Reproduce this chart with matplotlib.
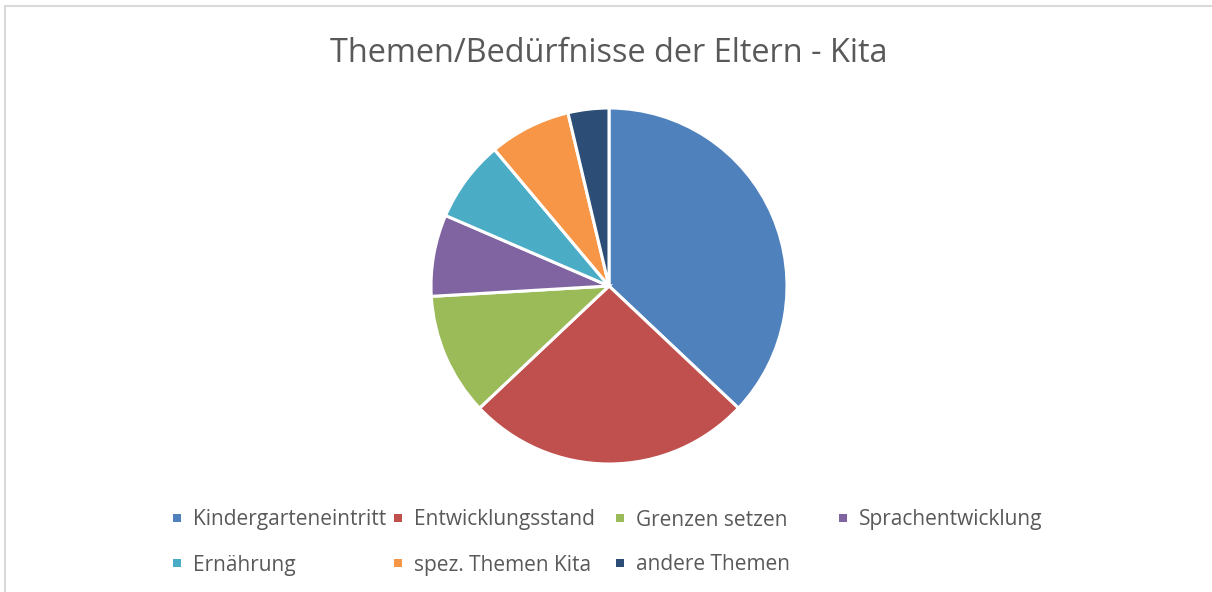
import matplotlib.pyplot as plt
from matplotlib.patches import Rectangle

# --- Data ---
categories = ["Kindergarteneintritt", "Entwicklungsstand", "Grenzen setzen",
              "Sprachentwicklung", "Ernährung", "spez. Themen Kita", "andere Themen"]
values = [10, 7, 3, 2, 2, 2, 1]
colors = ["#4F81BD", "#C0504D", "#9BBB59", "#8064A2", "#4BACC6", "#F79646", "#2C4D75"]
title = "Themen/Bedürfnisse der Eltern - Kita"

W, H = 1212, 592
plt.rcParams['font.family'] = ['Open Sans', 'DejaVu Sans']
text_color = "#595959"

fig = plt.figure(figsize=(W / 100, H / 100), dpi=100)

# chart frame (light grey, right/bottom edges are cut off in the original)
fig.add_artist(Rectangle((5 / W, -0.1), 1.2, (H - 6) / H + 0.1, transform=fig.transFigure,
                         fill=False, edgecolor="#D9D9D9", linewidth=1.5))

# pie axes: center (609, 286) px, radius 178 px
cx, cy, r = 609, 286, 178
ax = fig.add_axes([(cx - r) / W, (H - cy - r) / H, 2 * r / W, 2 * r / H])
ax.pie(values, colors=colors, startangle=90, counterclock=False, radius=1,
       wedgeprops=dict(edgecolor="white", linewidth=2.2))
ax.set_xlim(-1.0, 1.0)
ax.set_ylim(-1.0, 1.0)
ax.set_aspect("equal")
ax.axis("off")
for p in ax.patches:
    p.set_clip_on(False)

fig.text(609 / W, 1 - 53 / H, title, ha="center", va="center",
         fontsize=23.4, color=text_color)

# legend laid out like the Excel legend: 4 columns, 2 rows
col_x = [177, 398, 620, 843]
row_y = [518, 563]
for i, (name, col) in enumerate(zip(categories, colors)):
    x = col_x[i % 4]
    y = row_y[i // 4]
    fig.add_artist(Rectangle(((x - 4) / W, 1 - (y + 4) / H), 8 / W, 8 / H,
                             transform=fig.transFigure, facecolor=col, edgecolor="none"))
    fig.text((x + 16) / W, 1 - (y + 2) / H, name, ha="left", va="center",
             fontsize=15, color=text_color)

fig.savefig("out.png", dpi=100, facecolor="white")
